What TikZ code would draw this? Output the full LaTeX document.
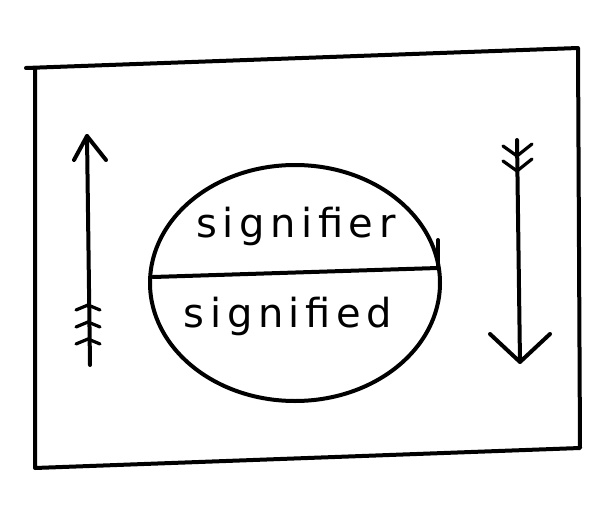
\documentclass[tikz,border=0pt]{standalone}
\usepackage{fontspec}
\newfontfamily\handfont[LetterSpace=14]{DejaVu Sans}
\usetikzlibrary{shapes.geometric}
\begin{document}
\begin{tikzpicture}[x=1pt,y=-1pt,
  ink/.style={line width=4pt,line cap=round,line join=round,black},
  feather/.style={line width=3.2pt,line cap=round,black},
  word/.style={font=\handfont\fontsize{40}{40}\selectfont}]
\useasboundingbox[fill=white] (0,0) rectangle (603,506);
% frame
\coordinate (tl) at (26,68);
\coordinate (tr) at (578,48);
\coordinate (br) at (580,448);
\coordinate (bl) at (35,468);
\draw[ink] (tl) -- (tr) -- (br) -- (bl) -- (35,68);
% sign ellipse
\node[ink,draw,ellipse,minimum width=290,minimum height=236,inner sep=0] (sign) at (295,283) {};
\coordinate (divl) at (153,277);
\coordinate (divr) at (438,268);
\draw[ink] (divl) -- (divr);
\draw[ink] (divr) -- (438,240);
\node[word] (sr) at (296,226) {signifier};
\node[word] (sd) at (288,316) {signified};
% left arrow (upward)
\coordinate (lt) at (87,136);
\coordinate (lb) at (90,365);
\draw[ink] (lb) -- (lt);
\draw[ink] (74,160) -- (lt) -- (106,160);
\foreach \y in {305,322,339}{
  \draw[feather] (76,\y+5) -- (88,\y) -- (100,\y+5);
}
% right arrow (downward)
\coordinate (rt) at (517,140);
\coordinate (rb) at (520,362);
\draw[ink] (rt) -- (rb);
\draw[ink] (490,334) -- (rb) -- (550,334);
\foreach \y in {150,165}{
  \draw[feather] (503,\y-4) -- (517,\y+6) -- (532,\y-6);
}
\end{tikzpicture}
\end{document}
